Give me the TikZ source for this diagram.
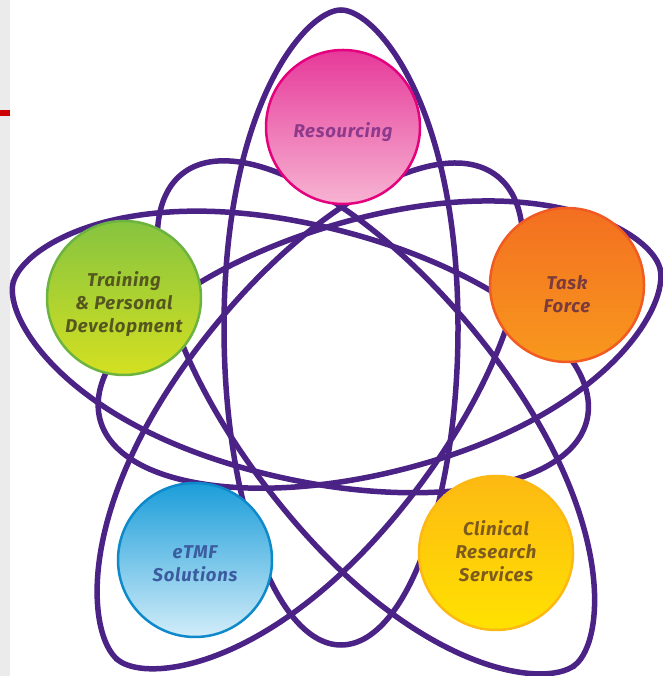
\documentclass[tikz,border=0pt]{standalone}
\usepackage{fontspec}
\setmainfont{Fira Sans}
\definecolor{loopc}{HTML}{4B2386}
\definecolor{resD}{HTML}{E5007D}\definecolor{resT}{HTML}{E6399A}\definecolor{resB}{HTML}{F7B4D2}\definecolor{resX}{HTML}{8E3A8C}
\definecolor{tpdD}{HTML}{6DB33F}\definecolor{tpdT}{HTML}{86C440}\definecolor{tpdB}{HTML}{D4E021}\definecolor{tpdX}{HTML}{55571F}
\definecolor{tfD}{HTML}{F15A22}\definecolor{tfT}{HTML}{F36F21}\definecolor{tfB}{HTML}{F8981D}\definecolor{tfX}{HTML}{7A3B3C}
\definecolor{etD}{HTML}{0E8ACB}\definecolor{etT}{HTML}{1B9DD9}\definecolor{etB}{HTML}{D2EDF9}\definecolor{etX}{HTML}{3B5DA0}
\definecolor{crD}{HTML}{FDB913}\definecolor{crT}{HTML}{FDB913}\definecolor{crB}{HTML}{FFE200}\definecolor{crX}{HTML}{7D5A1E}
\tikzset{
  loopline/.style={draw=loopc, line width=5.5pt},
  bubble/.style={circle, minimum size=154pt, inner sep=0pt, line width=2.5pt, align=center,
    font=\fontsize{18.5}{23}\selectfont\bfseries\itshape\addfontfeatures{LetterSpace=4}},
}
\newcommand\eggloop[5]{%
  \draw[loopline, shift={(#1,#2)}, rotate=#3]
    (#4,0) .. controls (#4,0.3*#5) and (0.7*#4,#5) .. (0,#5)
    .. controls (-0.552*#4,#5) and (-#4,0.552*#5) .. (-#4,0)
    .. controls (-#4,-0.552*#5) and (-0.552*#4,-#5) .. (0,-#5)
    .. controls (0.7*#4,-#5) and (#4,-0.3*#5) .. cycle;}
\begin{document}
\begin{tikzpicture}[x=1pt,y=1pt]
\useasboundingbox (0,0) rectangle (662,676);
\fill[white] (0,0) rectangle (662,676);
\fill[black!8] (0,0) rectangle (10,676);
\fill[red!80!black] (0,560) rectangle (10,566);
% loops
\eggloop{341}{348.5}{90}{317.5}{117}
\eggloop{300}{324.5}{166.58}{295}{127}
\eggloop{380}{332}{15.19}{290}{127}
\eggloop{307.5}{258}{231.94}{307.4}{130}
\eggloop{378.5}{256.5}{308.67}{314.5}{130}
% bubbles
\node[bubble, draw=resD, top color=resT, bottom color=resB, text=resX] (res) at (343,549) {};
\node[bubble, draw=tpdD, top color=tpdT, bottom color=tpdB, text=tpdX] (tpd) at (124,378) {};
\node[bubble, draw=tfD, top color=tfT, bottom color=tfB, text=tfX] (tf) at (567,391) {};
\node[bubble, draw=etD, top color=etT, bottom color=etB, text=etX] (etmf) at (195,116) {};
\node[bubble, draw=crD, top color=crT, bottom color=crB, text=crX] (crs) at (496,123) {};
% labels
\node[bubble, draw=none, minimum size=0pt, text=resX] (resl) at ([yshift=-5pt]res.center) {Resourcing};
\node[bubble, draw=none, minimum size=0pt, text=tpdX] (tpdl) at ([yshift=-6pt]tpd.center) {Training\\\& Personal\\Development};
\node[bubble, draw=none, minimum size=0pt, text=tfX] (tfl) at ([yshift=-9pt]tf.center) {Task\\Force};
\node[bubble, draw=none, minimum size=0pt, text=etX] (etmfl) at ([yshift=-4pt]etmf.center) {eTMF\\Solutions};
\node[bubble, draw=none, minimum size=0pt, text=crX] (crsl) at ([yshift=2pt]crs.center) {Clinical\\Research\\Services};
\end{tikzpicture}
\end{document}
